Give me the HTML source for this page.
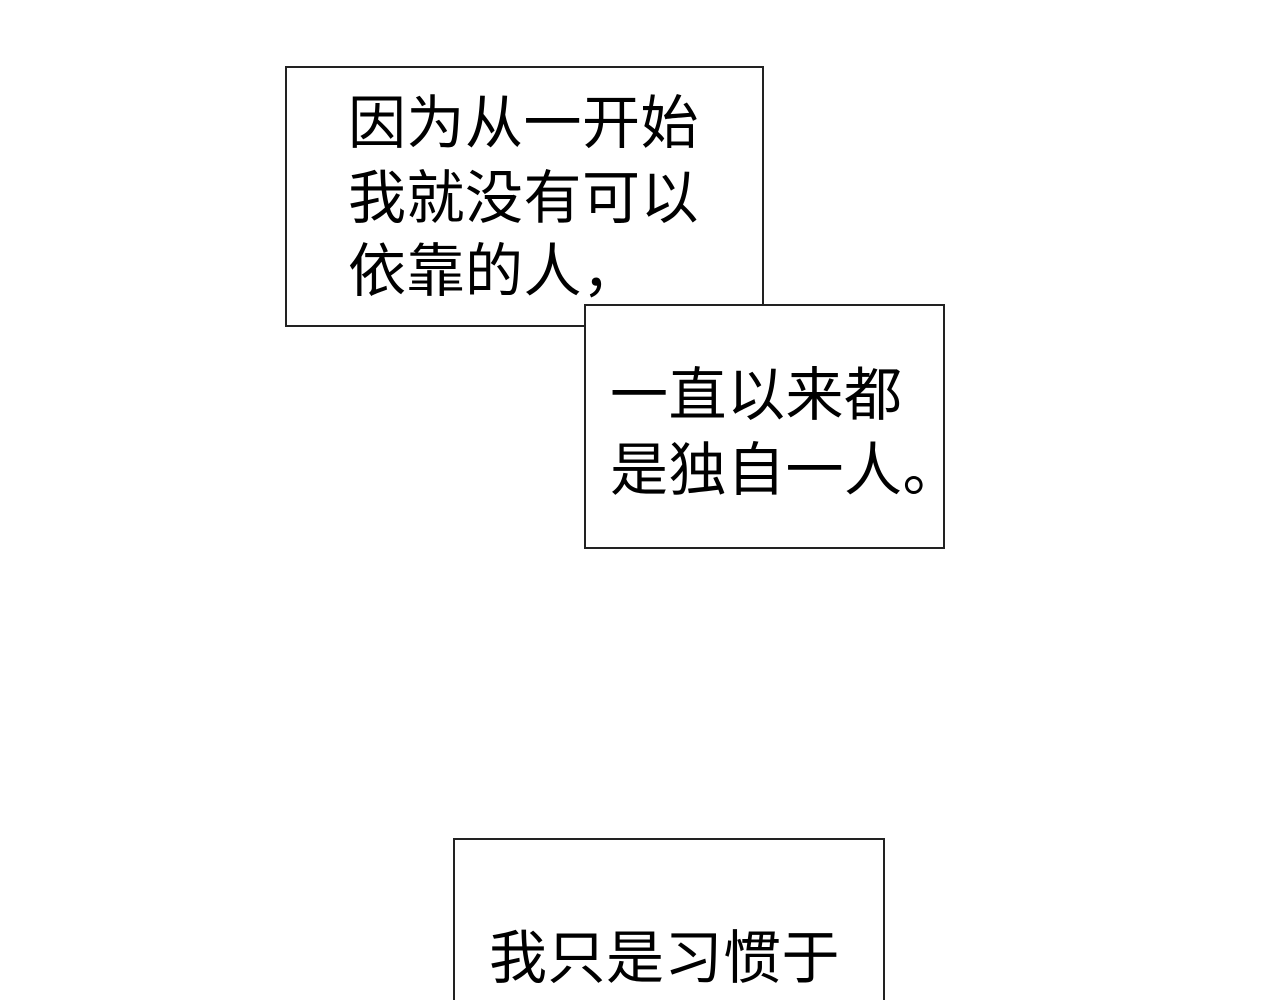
<!DOCTYPE html>
<html><head><meta charset="utf-8"><style>
html,body{margin:0;padding:0;background:#fff;width:1280px;height:1000px;overflow:hidden;position:relative}
.b{position:absolute;background:#fff;border:2px solid #222;box-sizing:border-box}
.t{position:absolute;font-family:"Liberation Sans","Noto Sans CJK SC",sans-serif;font-size:58px;line-height:58px;letter-spacing:0.5px;font-weight:400;color:#000;white-space:nowrap}
</style></head><body>
<div class="b" style="left:285px;top:66px;width:479px;height:261px"></div>
<div class="b" style="left:584px;top:304px;width:361px;height:245px"></div>
<div class="b" style="left:453px;top:838px;width:432px;height:200px"></div>
<div class="t" style="left:348px;top:95px">因为从一开始</div>
<div class="t" style="left:348px;top:170px">我就没有可以</div>
<div class="t" style="left:348px;top:243px">依靠的人，</div>
<div class="t" style="left:610px;top:367px">一直以来都</div>
<div class="t" style="left:610px;top:442px">是独自一人。</div>
<div class="t" style="left:489px;top:930px">我只是习惯于</div>
</body></html>
